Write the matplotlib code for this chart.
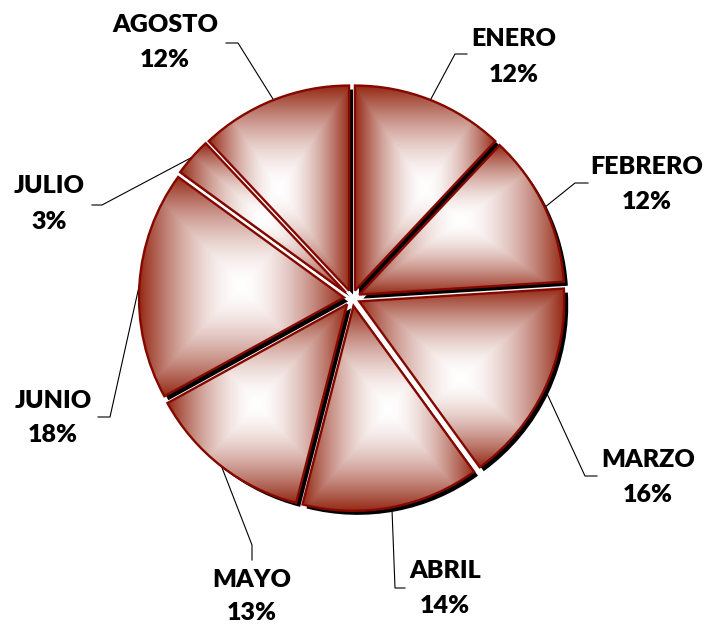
import numpy as np
import matplotlib
matplotlib.use('Agg')
import matplotlib.pyplot as plt

# ---- data ----
months = ['ENERO', 'FEBRERO', 'MARZO', 'ABRIL', 'MAYO', 'JUNIO', 'JULIO', 'AGOSTO']
shares = [12, 12, 16, 14, 13, 18, 3, 12]

# ---- layout (pixel coordinates, y measured from top) ----
W, H = 707, 625
CENTER_PX = (352, 298)
RADIUS = 205
EXPLODE = 8
SHADOW_OFF = (4, 4)
# leader elbow and end points
leader_pts = [((455, 54), (467, 54)),
              ((575, 183), (588, 183)),
              ((585, 476), (597, 476)),
              ((395, 588), (405, 588)),
              ((252, 545), (252, 560)),
              ((110, 417), (98, 417)),
              ((102, 205), (92, 205)),
              ((238, 43), (226, 43))]
# label centers x, baseline of name, baseline of percent
label_pos = [(514, 46, 82),
             (647, 174, 209),
             (648, 467, 502),
             (445, 578, 613),
             (252, 587, 620),
             (53, 408, 442),
             (49, 193, 229),
             (165, 32, 67)]

DARK = np.array([0.58, 0.16, 0.08])
OUTLINE = '#850800'
GAMMA = 1.7


def P(x, y):
    return x, H - y


fig = plt.figure(figsize=(W / 100, H / 100), dpi=100)
ax = fig.add_axes([0, 0, 1, 1])

cx, cy = P(*CENTER_PX)
explode = [EXPLODE] * len(shares)

# shadows
shadows, _ = ax.pie(shares, explode=explode, radius=RADIUS,
                    center=(cx + SHADOW_OFF[0], cy - SHADOW_OFF[1]),
                    startangle=90, counterclock=False, colors=['black'],
                    wedgeprops=dict(linewidth=0), frame=True)
for s in shadows:
    s.set_zorder(1)

# main wedges (outline only, gradient added as clipped images)
wedges, _ = ax.pie(shares, explode=explode, radius=RADIUS, center=(cx, cy),
                   startangle=90, counterclock=False, colors=['white'],
                   wedgeprops=dict(edgecolor=OUTLINE, linewidth=1.7), frame=True)

for w in wedges:
    w.set_facecolor('none')
    w.set_zorder(3)
    ext = w.get_path().get_extents()
    x0, y0, x1, y1 = ext.x0, ext.y0, ext.x1, ext.y1
    nx = int((x1 - x0) * 2) + 2
    ny = int((y1 - y0) * 2) + 2
    X, Y = np.meshgrid(np.linspace(-1, 1, nx), np.linspace(-1, 1, ny))
    t = np.maximum(np.abs(X), np.abs(Y)) ** GAMMA
    img = 1 - (1 - DARK)[None, None, :] * t[..., None]
    im = ax.imshow(img, extent=(x0, x1, y0, y1), origin='lower',
                   interpolation='bilinear', zorder=2)
    im.set_clip_path(w)

# leader lines and labels
for w, name, val, (elb, end), (lx, nb, pb) in zip(wedges, months, shares,
                                                  leader_pts, label_pos):
    mid = np.deg2rad((w.theta1 + w.theta2) / 2)
    sx = w.center[0] + w.r * np.cos(mid)
    sy = w.center[1] + w.r * np.sin(mid)
    ex, ey = P(*elb)
    fx, fy = P(*end)
    ax.plot([sx, ex, fx], [sy, ey, fy], color='black', lw=0.8, zorder=0.5)
    ax.text(*P(lx, nb), name, ha='center', va='baseline', fontsize=18,
            fontfamily='Lato', fontweight='heavy', color='black')
    ax.text(*P(lx, pb), f'{val}%', ha='center', va='baseline', fontsize=18,
            fontfamily='Lato', fontweight='heavy', color='black')

ax.set_xlim(0, W)
ax.set_ylim(0, H)
ax.set_aspect('equal')
ax.axis('off')

fig.savefig('out.png', dpi=100)
